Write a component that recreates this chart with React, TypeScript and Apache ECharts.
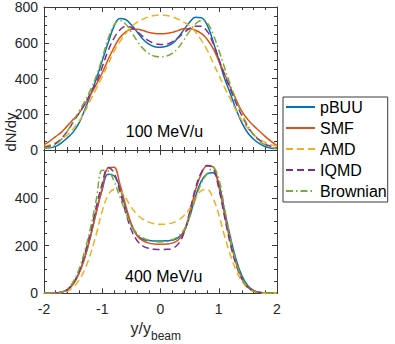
import React, { useEffect, useRef } from 'react';
import * as echarts from 'echarts';

const X = [-2, -1.9, -1.8, -1.7, -1.6, -1.5, -1.4, -1.3, -1.2, -1.1, -1.0, -0.9, -0.8, -0.7, -0.6, -0.5, -0.4, -0.3, -0.2, -0.1, 0,
  0.1, 0.2, 0.3, 0.4, 0.5, 0.6, 0.7, 0.8, 0.9, 1.0, 1.1, 1.2, 1.3, 1.4, 1.5, 1.6, 1.7, 1.8, 1.9, 2];

const NAMES = ['pBUU', 'SMF', 'AMD', 'IQMD', 'Brownian'];
const COLORS = ['#0072BD', '#D95319', '#EDB120', '#7E2F8E', '#77AC30'];

// 100 MeV/u panel
const TOP_PBUU = [12, 12, 20, 40, 68, 100, 150, 225, 310, 400, 500, 598, 690, 735, 730, 700, 660, 620, 592, 578, 575,
  580, 595, 628, 672, 715, 742, 740, 700, 610, 505, 400, 315, 225, 150, 95, 60, 35, 18, 10, 8];
const TOP_SMF = [30, 50, 75, 100, 135, 170, 205, 255, 310, 368, 432, 505, 572, 628, 660, 675, 676, 668, 658, 652, 650,
  652, 658, 668, 678, 678, 670, 652, 620, 570, 500, 425, 350, 280, 215, 170, 135, 105, 75, 48, 25];
const TOP_AMD = [20, 28, 42, 60, 85, 118, 160, 215, 280, 345, 410, 480, 550, 605, 650, 690, 715, 732, 745, 752, 755,
  752, 745, 732, 715, 695, 660, 615, 560, 490, 420, 350, 285, 220, 165, 120, 85, 60, 42, 30, 22];
const TOP_IQMD = [15, 22, 35, 65, 105, 155, 205, 258, 318, 380, 465, 555, 625, 670, 692, 685, 662, 635, 610, 595, 590,
  592, 605, 628, 655, 680, 693, 692, 665, 600, 510, 420, 340, 260, 190, 130, 85, 55, 32, 20, 12];
const TOP_BROWN = [10, 15, 30, 60, 105, 160, 215, 272, 338, 415, 515, 622, 698, 725, 705, 660, 610, 568, 540, 525, 522,
  525, 540, 570, 615, 665, 705, 725, 712, 650, 560, 460, 365, 280, 200, 135, 85, 50, 28, 15, 8];

// 400 MeV/u panel
const BOT_PBUU = [0, 0, 1, 4, 15, 40, 85, 150, 240, 345, 435, 498, 492, 445, 360, 285, 242, 226, 221, 219, 219,
  220, 222, 232, 258, 320, 405, 470, 500, 505, 460, 345, 235, 140, 72, 32, 12, 4, 1, 0, 0];
const BOT_SMF = [0, 0, 1, 4, 14, 38, 82, 150, 240, 340, 440, 525, 528, 460, 370, 290, 240, 220, 210, 206, 205,
  206, 210, 222, 255, 335, 430, 500, 533, 530, 450, 330, 215, 125, 62, 27, 10, 3, 1, 0, 0];
const BOT_AMD = [0, 0, 0, 2, 8, 25, 55, 100, 165, 250, 345, 410, 435, 430, 400, 360, 330, 310, 298, 291, 289,
  290, 295, 305, 325, 355, 395, 430, 435, 400, 330, 240, 160, 95, 50, 22, 8, 2, 0, 0, 0];
const BOT_IQMD = [0, 0, 1, 4, 15, 42, 90, 165, 260, 365, 460, 527, 505, 430, 340, 265, 220, 198, 188, 184, 183,
  184, 188, 205, 250, 340, 440, 505, 535, 525, 440, 320, 205, 118, 58, 25, 9, 3, 1, 0, 0];
const BOT_BROWN = [0, 0, 1, 5, 18, 48, 100, 178, 275, 395, 515, 512, 470, 405, 340, 285, 250, 232, 222, 217, 215,
  217, 224, 238, 265, 320, 395, 460, 500, 525, 480, 355, 230, 130, 62, 25, 8, 2, 0, 0, 0];

const TOP = [TOP_PBUU, TOP_SMF, TOP_AMD, TOP_IQMD, TOP_BROWN];
const BOT = [BOT_PBUU, BOT_SMF, BOT_AMD, BOT_IQMD, BOT_BROWN];

const X_TICKS = [-2, -1, 0, 1, 2];
const TOP_Y = { min: 0, max: 800, interval: 200 };
const BOT_Y = { min: 0, max: 600, interval: 200 };

const FONT = 'Liberation Sans, Arial, Helvetica, sans-serif';
const AX = '#3a3a3a';
const TXT = '#262626';

function lineType(i: number): any {
  if (i === 2 || i === 3) return [7, 4];
  if (i === 4) return [7, 3, 1.5, 3];
  return 'solid';
}

export default function App() {
  const ref = useRef<HTMLDivElement>(null);
  useEffect(() => {
    const chart = echarts.init(ref.current!, null, { renderer: 'svg' });

    const xAxis = (gridIndex: number, position: string, labels: boolean) => ({
      type: 'value', gridIndex, position,
      min: X_TICKS[0], max: X_TICKS[X_TICKS.length - 1], interval: 1,
      axisLine: { show: true, onZero: false, lineStyle: { color: AX, width: 1 } },
      axisTick: { show: true, inside: true, length: 5, lineStyle: { color: AX } },
      minorTick: { show: true, splitNumber: 5, length: 3, lineStyle: { color: AX } },
      splitLine: { show: false },
      axisLabel: { show: labels, fontSize: 14, fontFamily: FONT, color: TXT, margin: 9 },
    });
    const yAxis = (gridIndex: number, position: string, labels: boolean, r: any, hideMax: boolean) => ({
      type: 'value', gridIndex, position,
      min: r.min, max: r.max, interval: r.interval,
      axisLine: { show: true, onZero: false, lineStyle: { color: AX, width: 1 } },
      axisTick: { show: true, inside: true, length: 5, lineStyle: { color: AX } },
      minorTick: { show: true, splitNumber: 4, length: 3, lineStyle: { color: AX } },
      splitLine: { show: false },
      axisLabel: { show: labels, fontSize: 14, fontFamily: FONT, color: TXT, margin: 6, showMaxLabel: !hideMax },
    });

    const series: any[] = [];
    [TOP, BOT].forEach((set, p) => {
      set.forEach((arr, i) => {
        series.push({
          type: 'line', name: NAMES[i],
          xAxisIndex: p * 2, yAxisIndex: p * 2,
          data: X.map((x, k) => [x, arr[k]]),
          symbol: 'none', showSymbol: false, smooth: 0.4,
          lineStyle: { color: COLORS[i], width: 1.5, type: lineType(i) },
          itemStyle: { color: COLORS[i] },
          emphasis: { disabled: true },
        });
      });
    });

    chart.setOption({
      animation: false,
      backgroundColor: '#fff',
      grid: [
        { left: 44, top: 6, width: 233, height: 144 },
        { left: 44, top: 150, width: 233, height: 143.3 },
      ],
      xAxis: [xAxis(0, 'bottom', false), xAxis(0, 'top', false), xAxis(1, 'bottom', true), xAxis(1, 'top', false)],
      yAxis: [
        yAxis(0, 'left', true, TOP_Y, false), yAxis(0, 'right', false, TOP_Y, false),
        yAxis(1, 'left', true, BOT_Y, true), yAxis(1, 'right', false, BOT_Y, true),
      ],
      legend: {
        data: NAMES, orient: 'vertical', left: 283, top: 97,
        itemWidth: 29, itemHeight: 10, itemGap: 5,
        padding: [2, 1, 3, 2],
        borderColor: AX, borderWidth: 1, backgroundColor: '#fff',
        textStyle: { fontSize: 16, fontFamily: FONT, color: '#000' },
        itemStyle: { color: 'rgba(0,0,0,0)', borderWidth: 0, opacity: 0 },
        selectedMode: false,
      },
      graphic: [
        { type: 'text', x: 164.5, y: 131.5, style: { text: '100 MeV/u', fontSize: 16, fontFamily: FONT, fill: '#000', align: 'center', verticalAlign: 'middle' } },
        { type: 'text', x: 163.7, y: 276.7, style: { text: '400 MeV/u', fontSize: 16, fontFamily: FONT, fill: '#000', align: 'center', verticalAlign: 'middle' } },
        { type: 'text', x: 10, y: 132, rotation: Math.PI / 2, style: { text: 'dN/dy', fontSize: 15, fontFamily: FONT, fill: TXT, align: 'center', verticalAlign: 'middle' } },
        { type: 'text', x: 151, y: 328, style: { text: 'y/y', fontSize: 16, fontFamily: FONT, fill: TXT, align: 'right', verticalAlign: 'middle' } },
        { type: 'text', x: 151, y: 336, style: { text: 'beam', fontSize: 12, fontFamily: FONT, fill: TXT, align: 'left', verticalAlign: 'middle' } },
      ],
      series,
    });
    return () => chart.dispose();
  }, []);
  return <div ref={ref} style={{ position: 'fixed', left: 0, top: 0, width: 395, height: 344, background: '#fff' }} />;
}
